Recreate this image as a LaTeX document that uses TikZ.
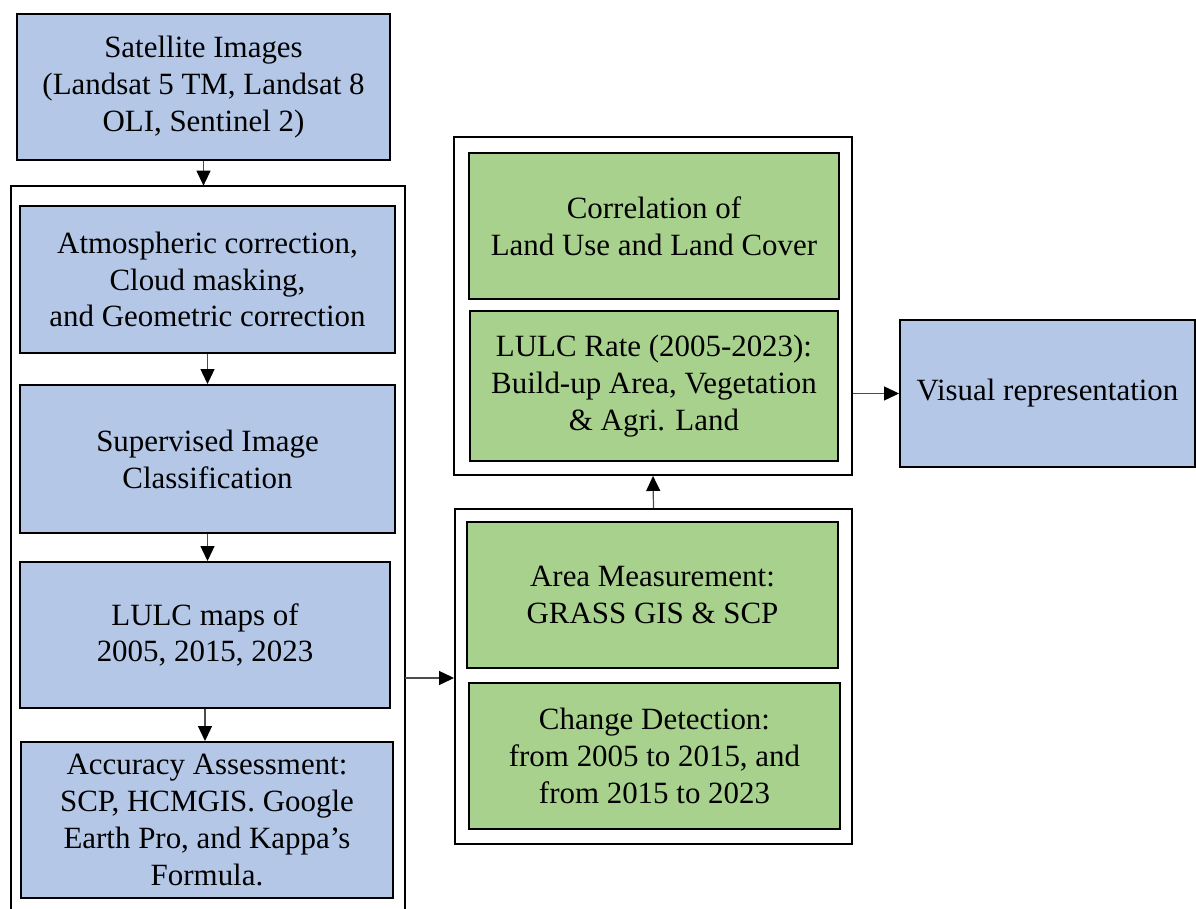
\documentclass[tikz,border=0pt]{standalone}
\usepackage{fontspec}
\setmainfont{Liberation Serif}
\usetikzlibrary{arrows.meta}

\tikzset{
  bluebox/.style={draw=black, line width=1.1pt, fill={rgb,255:red,180;green,199;blue,231}, align=center, inner sep=0pt},
  greenbox/.style={draw=black, line width=1.1pt, fill={rgb,255:red,169;green,209;blue,142}, align=center, inner sep=0pt},
  frame/.style={draw=black, line width=1.1pt, inner sep=0pt},
  link/.style={draw=black!70, line width=0.7pt, -{Triangle[length=0.3cm,width=0.28cm,color=black]}}
}

\begin{document}
\begin{tikzpicture}[font=\fontsize{17.6}{21}\selectfont]
\useasboundingbox (0,0) rectangle (23.92,18.18);

%satellite images
\node[bluebox, minimum width=7.46cm, minimum height=2.92cm] (sat) at (4.07,16.44)
  {Satellite Images\\(Landsat 5 TM, Landsat 8\\OLI, Sentinel 2)};

%left frame (open at the bottom)
\node[minimum width=7.88cm, minimum height=14.46cm, inner sep=0pt] (prep) at (4.16,7.23) {};
\draw[line width=1.1pt] (prep.south west) |- (prep.north east) -- (prep.south east);

%left boxes
\node[bluebox, minimum width=7.50cm, minimum height=2.94cm] (atm) at (4.15,12.59)
  {Atmospheric correction,\\Cloud masking,\\and Geometric correction};
\node[bluebox, minimum width=7.50cm, minimum height=2.96cm] (sup) at (4.15,9.00)
  {Supervised Image\\Classification};
\node[bluebox, minimum width=7.40cm, minimum height=2.92cm] (maps) at (4.10,5.48)
  {LULC maps of\\2005, 2015, 2023};
\node[bluebox, minimum width=7.44cm, minimum height=3.12cm] (acc) at (4.14,1.78)
  {Accuracy Assessment:\\SCP, HCMGIS. Google\\Earth Pro, and Kappa’s\\Formula.};

%middle frames
\node[frame, minimum width=7.96cm, minimum height=6.76cm] (res) at (13.06,12.06) {};
\node[frame, minimum width=7.94cm, minimum height=6.70cm] (meas) at (13.07,4.65) {};

%green boxes
\node[greenbox, minimum width=7.40cm, minimum height=2.92cm] (corr) at (13.08,13.66)
  {Correlation of\\Land Use and Land Cover};
\node[greenbox, minimum width=7.36cm, minimum height=3.00cm] (rate) at (13.08,10.46)
  {LULC Rate (2005-2023):\\Build-up Area, Vegetation\\\& Agri. Land};
\node[greenbox, minimum width=7.42cm, minimum height=2.92cm] (area) at (13.05,6.28)
  {Area Measurement:\\GRASS GIS \& SCP};
\node[greenbox, minimum width=7.42cm, minimum height=2.92cm] (chg) at (13.09,3.06)
  {Change Detection:\\from 2005 to 2015, and\\from 2015 to 2023};

%visual representation
\node[bluebox, minimum width=5.90cm, minimum height=2.94cm] (vis) at (20.95,10.31)
  {Visual representation};

%arrows
\draw[link] (sat.south) -- (sat.south |- prep.north);
\draw[link] (atm.south) -- (atm.south |- sup.north);
\draw[link] (sup.south) -- (sup.south |- maps.north);
\draw[link] (maps.south) -- (maps.south |- acc.north);
\draw[link] (prep.east |- 0,4.62) -- (meas.west |- 0,4.62);
\draw[link] (meas.north) -- (res.south);
\draw[link] (res.east |- vis.west) -- (vis.west);

\end{tikzpicture}
\end{document}
